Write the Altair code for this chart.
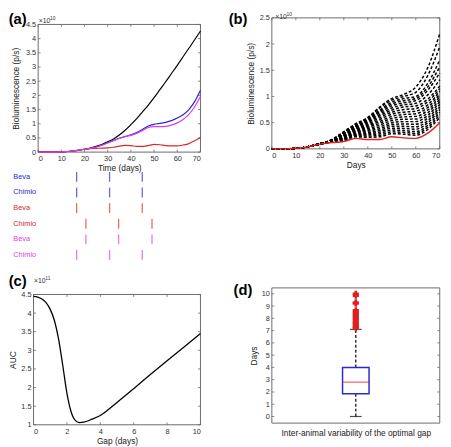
import altair as alt
import pandas as pd

# ---------------- data ----------------
# panel (a): bioluminescence (x1e10 p/s) per strategy
days_a = [0, 5, 10, 15, 20, 22.5, 25, 27.5, 30, 32.5, 35, 37.5, 40, 42.5, 45,
          47.5, 50, 52.5, 55, 57.5, 60, 62.5, 65, 67.5, 70]
a_control = [0, 0, 0.01, 0.04, 0.1, 0.14, 0.2, 0.27, 0.36, 0.46, 0.6, 0.77, 0.97, 1.18, 1.42,
             1.66, 1.92, 2.2, 2.48, 2.77, 3.06, 3.36, 3.66, 3.96, 4.27]
a_simultaneous = [0, 0, 0.01, 0.04, 0.1, 0.13, 0.18, 0.25, 0.33, 0.41, 0.49, 0.55, 0.61, 0.69, 0.8,
                  0.92, 0.98, 1.01, 1.05, 1.11, 1.2, 1.32, 1.5, 1.78, 2.18]
a_chimio_first = [0, 0, 0.01, 0.04, 0.1, 0.13, 0.18, 0.24, 0.32, 0.4, 0.48, 0.54, 0.59, 0.66, 0.76,
                  0.87, 0.9, 0.9, 0.91, 0.95, 1.03, 1.15, 1.33, 1.6, 1.96]
a_beva_first = [0, 0, 0.01, 0.04, 0.1, 0.12, 0.13, 0.14, 0.15, 0.17, 0.21, 0.24, 0.23, 0.2, 0.2,
                0.23, 0.27, 0.26, 0.23, 0.22, 0.22, 0.25, 0.3, 0.4, 0.52]
a_x_ticks = [0, 10, 20, 30, 40, 50, 60, 70]
a_y_ticks = [0, 0.5, 1, 1.5, 2, 2.5, 3, 3.5, 4, 4.5]

strategies = ["Control", "Simultaneous", "Beva first", "Chimio first"]
strategy_colors = ["#000000", "#2626d8", "#d82a2a", "#de3ede"]

# treatment schedule rows
sched_labels = ["Beva", "Chimio", "Beva", "Chimio", "Beva", "Chimio"]
sched_strategy = ["Simultaneous", "Simultaneous", "Beva first", "Beva first",
                  "Chimio first", "Chimio first"]
sched_timing = ["early", "early", "early", "late", "late", "early"]
dose_days_early = [16.6, 30.8, 44.9]
dose_days_late = [20.6, 34.7, 49.1]

# panel (b): optimal-gap curve and the family of other gaps (x1e10 p/s)
days_b = [0, 5, 10, 15, 20, 25, 30, 35, 40, 45, 50, 55, 60, 65, 70]
b_optimal = [0, 0, 0.01, 0.04, 0.09, 0.12, 0.14, 0.2, 0.18, 0.18, 0.23, 0.21, 0.2, 0.3, 0.5]
b_family = [
    [0, 0, 0.01, 0.04, 0.09, 0.13, 0.16, 0.23, 0.22, 0.23, 0.29, 0.28, 0.26, 0.37, 0.6],
    [0, 0, 0.01, 0.04, 0.09, 0.13, 0.17, 0.245, 0.245, 0.26, 0.325, 0.315, 0.295, 0.41, 0.65],
    [0, 0, 0.01, 0.04, 0.09, 0.13, 0.18, 0.26, 0.27, 0.29, 0.36, 0.35, 0.33, 0.45, 0.7],
    [0, 0, 0.01, 0.04, 0.09, 0.135, 0.19, 0.275, 0.29, 0.32, 0.395, 0.39, 0.375, 0.5, 0.75],
    [0, 0, 0.01, 0.04, 0.09, 0.14, 0.2, 0.29, 0.31, 0.35, 0.43, 0.43, 0.42, 0.54, 0.8],
    [0, 0, 0.01, 0.04, 0.09, 0.14, 0.21, 0.305, 0.335, 0.385, 0.465, 0.475, 0.47, 0.59, 0.85],
    [0, 0, 0.01, 0.04, 0.09, 0.14, 0.22, 0.32, 0.36, 0.42, 0.5, 0.52, 0.52, 0.64, 0.9],
    [0, 0, 0.01, 0.04, 0.09, 0.145, 0.23, 0.335, 0.385, 0.455, 0.54, 0.565, 0.57, 0.69, 0.95],
    [0, 0, 0.01, 0.04, 0.09, 0.15, 0.24, 0.35, 0.41, 0.49, 0.58, 0.61, 0.62, 0.74, 1.0],
    [0, 0, 0.01, 0.04, 0.095, 0.15, 0.25, 0.365, 0.43, 0.525, 0.62, 0.655, 0.67, 0.79, 1.05],
    [0, 0, 0.01, 0.04, 0.1, 0.15, 0.26, 0.38, 0.45, 0.56, 0.66, 0.7, 0.72, 0.84, 1.1],
    [0, 0, 0.01, 0.04, 0.1, 0.155, 0.27, 0.395, 0.475, 0.595, 0.7, 0.75, 0.77, 0.9, 1.15],
    [0, 0, 0.01, 0.04, 0.1, 0.16, 0.28, 0.41, 0.5, 0.63, 0.74, 0.8, 0.82, 0.95, 1.2],
    [0, 0, 0.01, 0.04, 0.1, 0.16, 0.29, 0.42, 0.52, 0.66, 0.78, 0.84, 0.87, 1.03, 1.32],
    [0, 0, 0.01, 0.04, 0.1, 0.16, 0.3, 0.43, 0.54, 0.69, 0.82, 0.88, 0.92, 1.12, 1.45],
    [0, 0, 0.01, 0.04, 0.1, 0.165, 0.305, 0.44, 0.555, 0.715, 0.855, 0.92, 0.96, 1.18, 1.57],
    [0, 0, 0.01, 0.04, 0.1, 0.17, 0.31, 0.45, 0.57, 0.74, 0.89, 0.96, 1.0, 1.25, 1.7],
    [0, 0, 0.01, 0.04, 0.1, 0.17, 0.32, 0.47, 0.59, 0.78, 0.93, 1.0, 1.08, 1.4, 1.95],
    [0, 0, 0.01, 0.04, 0.1, 0.18, 0.33, 0.48, 0.6, 0.8, 0.96, 1.04, 1.18, 1.55, 2.2],
]
b_x_ticks = [0, 10, 20, 30, 40, 50, 60, 70]
b_y_ticks = [0, 0.5, 1, 1.5, 2, 2.5]

# panel (c): AUC (x1e11) vs gap
gap_days = [0, 0.25, 0.5, 0.75, 1, 1.25, 1.5, 1.75, 2, 2.25, 2.5, 2.75, 3, 3.5, 4,
            5, 6, 7, 8, 9, 10]
auc_values = [4.45, 4.43, 4.38, 4.28, 4.1, 3.8, 3.3, 2.6, 1.85, 1.35, 1.12, 1.06, 1.07, 1.15, 1.25,
              1.6, 1.97, 2.35, 2.72, 3.08, 3.45]
c_x_ticks = [0, 2, 4, 6, 8, 10]
c_y_ticks = [1, 1.5, 2, 2.5, 3, 3.5, 4, 4.5]

# panel (d): boxplot of the optimal gap (days)
box_q1, box_median, box_q3 = 1.85, 2.8, 4.0
whisker_low, whisker_high = 0.0, 7.1
outlier_days = [7.2, 7.3, 7.45, 7.6, 7.75, 7.9, 8.05, 8.2, 8.35, 8.5, 8.65, 9.2, 9.3, 9.85, 10.0]
d_y_ticks = [0, 1, 2, 3, 4, 5, 6, 7, 8, 9, 10]

# ---------------- styling ----------------
FONT = "Liberation Sans"
FRAME = "#6a6a6a"
LBL = 7.5
TTL = 8.5
TK = 2.5
one = pd.DataFrame({"k": [0]})


def frame(x0, x1, y0, y1):
    return alt.Chart(one).mark_rect(filled=False, stroke=FRAME, strokeWidth=1).encode(
        x=alt.value(x0), x2=alt.value(x1), y=alt.value(y0), y2=alt.value(y1))


def inward_ticks(xenc, xfield, xvals, yenc, yfield, yvals, x0, x1, y0, y1):
    layers = []
    if yvals:
        dy = pd.DataFrame({yfield: yvals})
        for a, b in ((x0, x0 + TK), (x1 - TK, x1)):
            layers.append(alt.Chart(dy).mark_rule(color=FRAME, strokeWidth=0.8).encode(
                y=yenc, x=alt.value(a), x2=alt.value(b)))
    if xvals:
        dx = pd.DataFrame({xfield: xvals})
        for a, b in ((y1 - TK, y1), (y0, y0 + TK)):
            layers.append(alt.Chart(dx).mark_rule(color=FRAME, strokeWidth=0.8).encode(
                x=xenc, y=alt.value(a), y2=alt.value(b)))
    return layers


def label(txt, x, y, size=15, weight="bold", baseline="top", color="#000"):
    return alt.Chart(one).mark_text(text=txt, align="left", baseline=baseline, fontSize=size,
                                    fontWeight=weight, font=FONT, color=color).encode(
        x=alt.value(x), y=alt.value(y))


def exponent(p, x, y):
    return label("\u00d710", x, y, size=7, weight="normal", baseline="alphabetic", color="#333") + \
        label(p, x + 11.5, y - 3.5, size=5, weight="normal", baseline="alphabetic", color="#333")


color_scale = alt.Scale(domain=strategies, range=strategy_colors)

# ---------------- panel (a) ----------------
WA, HA = 170, 136.7
AX0, AY0 = 4.7, 6.7
rows = []
for name, vals in zip(strategies, [a_control, a_simultaneous, a_beva_first, a_chimio_first]):
    for d, v in zip(days_a, vals):
        rows.append({"t_a": d, "lum_a": v, "strategy": name})
df_a = pd.DataFrame(rows)

xa = alt.X("t_a:Q", scale=alt.Scale(domain=[0, 70], range=[AX0, WA], nice=False),
           axis=alt.Axis(values=a_x_ticks, title="Time (days)"))
ya = alt.Y("lum_a:Q", scale=alt.Scale(domain=[0, 4.5], range=[HA, AY0], nice=False),
           axis=alt.Axis(values=a_y_ticks, format=".1~f",
                         title="Bioluminescence (p/s)", offset=-AX0, titlePadding=5))
lines_a = alt.Chart(df_a).mark_line(strokeWidth=1.2, interpolate="monotone").encode(
    x=xa, y=ya, color=alt.Color("strategy:N", scale=color_scale, legend=None),
    order=alt.Order("t_a:Q"))
panel_a = alt.layer(frame(AX0, WA, AY0, HA),
                    *inward_ticks(xa, "t_a", a_x_ticks, ya, "lum_a", a_y_ticks, AX0, WA, AY0, HA),
                    lines_a, exponent("10", AX0 + 0.5, AY0 - 1.2),
                    label("(a)", -25.3, -5.3)).properties(width=WA, height=HA)

# ---------------- schedule ----------------
HS = 117.3
srows = []
for i, (lab, st, tm) in enumerate(zip(sched_labels, sched_strategy, sched_timing)):
    for d in (dose_days_early if tm == "early" else dose_days_late):
        srows.append({"row": i, "dose_day": d, "strategy": st, "lab": lab})
df_s = pd.DataFrame(srows)
df_sl = pd.DataFrame({"row": list(range(6)), "lab": sched_labels, "strategy": sched_strategy})
ys = alt.Y("row:O", scale=alt.Scale(type="band", domain=list(range(6)), range=[7, 102.4],
                                    paddingInner=0, paddingOuter=0), axis=None)
ticks_s = alt.Chart(df_s).mark_tick(size=10, thickness=1.3).encode(
    x=alt.X("dose_day:Q", scale=alt.Scale(domain=[0, 70], range=[AX0, WA], nice=False), axis=None),
    y=ys, color=alt.Color("strategy:N", scale=color_scale, legend=None))
labels_s = alt.Chart(df_sl).mark_text(align="left", baseline="middle", fontSize=7.5, font=FONT).encode(
    x=alt.value(-20.6), y=ys, text="lab:N",
    color=alt.Color("strategy:N", scale=color_scale, legend=None))
panel_s = alt.layer(ticks_s, labels_s).properties(width=WA, height=HS)

# ---------------- panel (b) ----------------
WB, HB = 171, 133.4
brows = []
for k, vals in enumerate(b_family):
    for d, v in zip(days_b, vals):
        brows.append({"t_b": d, "lum_b": v, "curve": k})
df_bf = pd.DataFrame(brows)
df_bo = pd.DataFrame({"t_b": days_b, "lum_b": b_optimal})
xb = alt.X("t_b:Q", scale=alt.Scale(domain=[0, 70], nice=False),
           axis=alt.Axis(values=b_x_ticks, title="Days"))
yb = alt.Y("lum_b:Q", scale=alt.Scale(domain=[0, 2.5], nice=False),
           axis=alt.Axis(values=b_y_ticks, format=".1~f",
                         title="Bioluminescence (p/s)", titlePadding=4))
fam = alt.Chart(df_bf).mark_line(color="black", strokeDash=[3, 2], strokeWidth=1.5,
                                 interpolate="monotone").encode(
    x=xb, y=yb, detail="curve:N", order=alt.Order("t_b:Q"))
opt = alt.Chart(df_bo).mark_line(color="#e02020", strokeWidth=1.5, interpolate="monotone").encode(
    x=xb, y=yb, order=alt.Order("t_b:Q"))
panel_b = alt.layer(frame(0, WB, 0, HB),
                    *inward_ticks(xb, "t_b", b_x_ticks, yb, "lum_b", b_y_ticks, 0, WB, 0, HB),
                    fam, opt, exponent("10", 3.5, 1.5),
                    label("(b)", -44, -5.3)).properties(width=WB, height=HB)

blank = alt.Chart(one).mark_point(opacity=0).encode(
    x=alt.value(0), y=alt.value(0)).properties(width=1, height=1)

# ---------------- panel (c) ----------------
WC, HC = 170, 139.4
CY0 = 6.7
df_c = pd.DataFrame({"gap": gap_days, "auc": auc_values})
xc = alt.X("gap:Q", scale=alt.Scale(domain=[0, 10], nice=False),
           axis=alt.Axis(values=c_x_ticks, title="Gap (days)"))
yc = alt.Y("auc:Q", scale=alt.Scale(domain=[1, 4.5], range=[HC, CY0], nice=False),
           axis=alt.Axis(values=c_y_ticks, format=".1~f", title="AUC", titlePadding=3))
line_c = alt.Chart(df_c).mark_line(color="black", strokeWidth=1.3, interpolate="monotone").encode(
    x=xc, y=yc, order=alt.Order("gap:Q"))
panel_c = alt.layer(frame(0, WC, CY0, HC),
                    *inward_ticks(xc, "gap", c_x_ticks, yc, "auc", c_y_ticks, 0, WC, CY0, HC),
                    line_c, exponent("11", 0.5, CY0 - 11.3),
                    label("(c)", -25.3, -13.5)).properties(width=WC, height=HC)

# ---------------- panel (d) ----------------
WD, HD = 171, 137.7
xd = alt.X("pos:Q", scale=alt.Scale(domain=[0, 2], nice=False),
           axis=alt.Axis(labels=False, ticks=False, title="Inter-animal variability of the optimal gap",
                         titlePadding=6))
yd = alt.Y("lo:Q", scale=alt.Scale(domain=[-0.54, 10.48], nice=False),
           axis=alt.Axis(values=d_y_ticks, format="d", title="Days", titlePadding=3))
df_w = pd.DataFrame({"pos": [1, 1], "lo": [box_q3, whisker_low], "hi": [whisker_high, box_q1]})
df_box = pd.DataFrame({"pos": [1], "lo": [box_q1], "hi": [box_q3]})
df_med = pd.DataFrame({"pos": [1], "lo": [box_median]})
df_cap = pd.DataFrame({"pos": [1, 1], "lo": [whisker_low, whisker_high]})
df_out = pd.DataFrame({"pos": [1] * len(outlier_days), "lo": outlier_days})
whisk = alt.Chart(df_w).mark_rule(color="black", strokeDash=[3, 2], strokeWidth=1.2).encode(
    x=xd, y=yd, y2="hi:Q")
box = alt.Chart(df_box).mark_bar(size=27, filled=False, stroke="#2a2ad4", strokeWidth=1.5).encode(
    x=xd, y=yd, y2="hi:Q")
med = alt.Chart(df_med).mark_tick(orient="horizontal", size=27, thickness=1.2, color="#e02020").encode(
    x=xd, y=yd)
caps = alt.Chart(df_cap).mark_tick(orient="horizontal", size=12, thickness=1.2, color="black").encode(
    x=xd, y=yd)
outs = alt.Chart(df_out).mark_point(shape="cross", filled=True, size=40, color="#e02020", opacity=1).encode(
    x=xd, y=yd)
panel_d = alt.layer(frame(0, WD, 0, HD),
                    *inward_ticks(xd, "pos", [], yd, "lo", d_y_ticks, 0, WD, 0, HD),
                    whisk, box, med, caps, outs,
                    label("(d)", -39, -4.6)).properties(width=WD, height=HD)

# ---------------- layout ----------------
chart = alt.concat(
    panel_a, panel_b, panel_s, blank, panel_c, panel_d,
    columns=2, bounds="flush", align="each",
    spacing={"row": 10, "column": 72.7},
    padding=0, autosize=alt.AutoSizeParams(type="pad"),
).resolve_scale(x="independent", y="independent", color="independent").configure_view(
    strokeWidth=0
).configure_axis(
    grid=False, domain=False, tickSize=0, labelPadding=2.5, titlePadding=2,
    labelFont=FONT, titleFont=FONT, labelFontSize=LBL, titleFontSize=TTL,
    labelColor="#333", titleColor="#222", titleFontWeight="normal"
)

chart.save("out.html", embed_options={"renderer": "svg", "actions": False})
